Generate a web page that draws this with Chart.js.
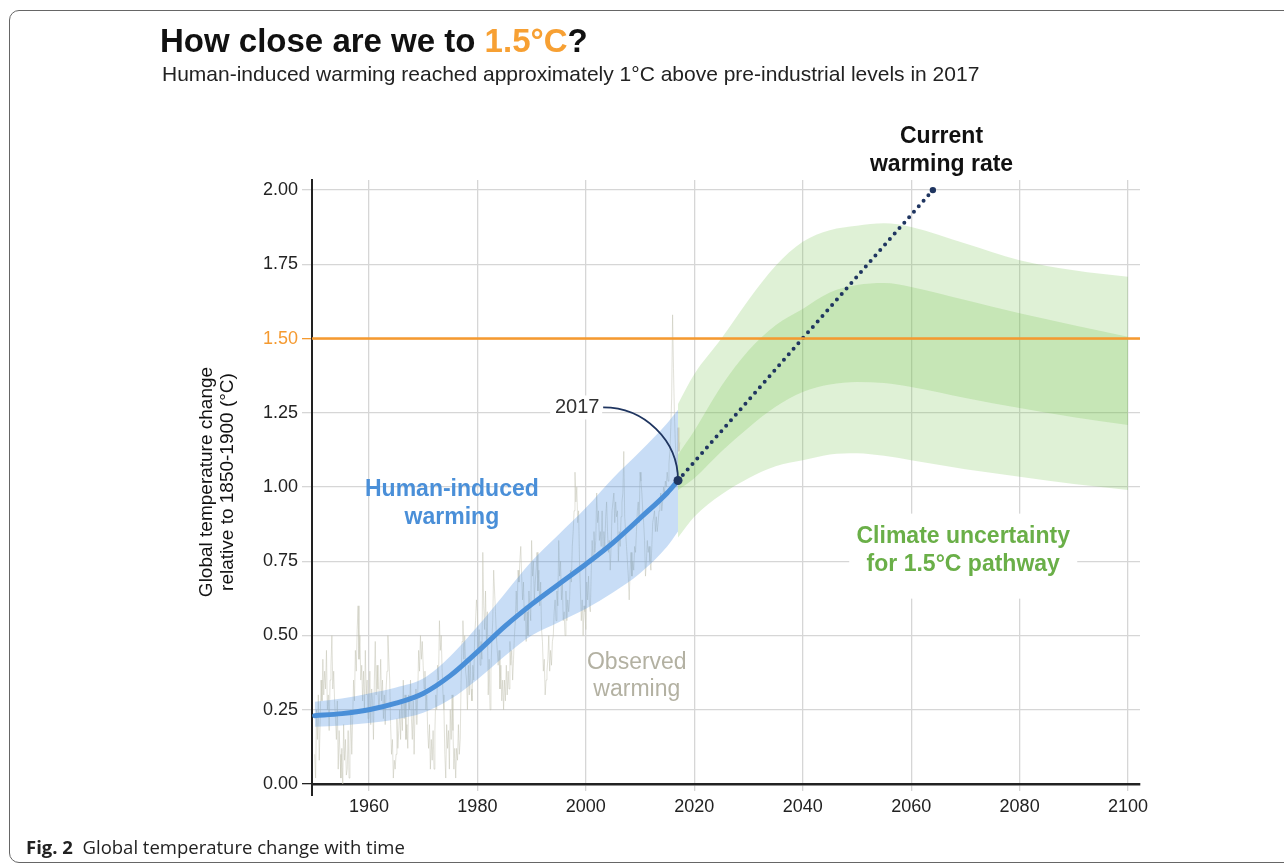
<!DOCTYPE html>
<html lang="en">
<head>
<meta charset="UTF-8">
<title>How close are we to 1.5°C?</title>
<script src="https://cdn.jsdelivr.net/npm/chart.js"></script>
<style>
  body { margin: 0; background: #fff; overflow: hidden; font-family: "Liberation Sans", Arial, sans-serif; }
  .wrap { position: relative; width: 1284px; height: 864px; overflow: hidden; }
  .frame { position: absolute; left: 9px; top: 10px; width: 1320px; height: 851px; border: 1.5px solid #666; border-radius: 10px; }
  canvas { position: absolute; left: 0; top: 0; }
  h1 { position: absolute; left: 160px; top: 24px; margin: 0; font-size: 33px; line-height: 1; font-weight: bold; color: #111; }
  h1 span { color: #f7a033; }
  .sub { position: absolute; left: 162px; top: 63px; margin: 0; font-size: 21px; line-height: 1; color: #222; }
  .cap { position: absolute; left: 26px; top: 838px; font-family: "Open Sans", sans-serif; font-size: 18.5px; line-height: 1; color: #222; }
</style>
</head>
<body>
<div class="wrap">
  <div class="frame"></div>
  <canvas id="chart" width="1284" height="864"></canvas>
  <h1>How close are we to <span>1.5°C</span>?</h1>
  <p class="sub">Human-induced warming reached approximately 1°C above pre-industrial levels in 2017</p>
  <div class="cap"><b>Fig. 2</b>&nbsp; Global temperature change with time</div>
</div>

<script>
// axis
var xMin = 1949.5, xMax = 2102.2;
var yMin = 0, yMax = 2.034;
var xTicks = [1960, 1980, 2000, 2020, 2040, 2060, 2080, 2100];
var yTicks = [0, 0.25, 0.5, 0.75, 1.0, 1.25, 1.5, 1.75, 2.0];
var threshold = 1.5;

// human-induced warming (central estimate + likely range)
var humanYears   = [1950, 1955, 1960, 1965, 1970, 1975, 1980, 1985, 1990, 1995, 2000, 2005, 2010, 2015, 2017];
var humanWarming = [0.23, 0.237, 0.25, 0.272, 0.305, 0.365, 0.445, 0.53, 0.605, 0.673, 0.74, 0.812, 0.895, 0.98, 1.022];
var humanUpper   = [0.277, 0.288, 0.305, 0.325, 0.355, 0.43, 0.53, 0.64, 0.75, 0.84, 0.93, 1.03, 1.12, 1.215, 1.26];
var humanLower   = [0.193, 0.197, 0.205, 0.218, 0.24, 0.285, 0.352, 0.43, 0.50, 0.545, 0.59, 0.645, 0.71, 0.80, 0.85];

// current warming rate
var rateYears  = [2017, 2064];
var rateValues = [1.022, 2.0];

// climate uncertainty for 1.5C pathway
var greenYears = [2017, 2020, 2025, 2030, 2035, 2040, 2045, 2050, 2055, 2060, 2070, 2080, 2090, 2100];
var outerUpper = [1.28, 1.38, 1.50, 1.63, 1.745, 1.826, 1.865, 1.88, 1.888, 1.876, 1.82, 1.764, 1.73, 1.708];
var outerLower = [0.83, 0.90, 0.975, 1.03, 1.07, 1.09, 1.11, 1.114, 1.105, 1.09, 1.06, 1.035, 1.01, 0.99];
var innerUpper = [1.11, 1.19, 1.34, 1.46, 1.545, 1.60, 1.655, 1.68, 1.687, 1.674, 1.63, 1.585, 1.545, 1.506];
var innerLower = [0.99, 1.03, 1.12, 1.20, 1.27, 1.32, 1.345, 1.354, 1.35, 1.337, 1.30, 1.266, 1.235, 1.209];

// observed warming, six readings a year from 1950
var obsStart = 1950, obsStep = 1 / 6;
var observed = [
  0.10, 0.02, 0.25, 0.15, 0.30, 0.08,  0.20, 0.35, 0.28, 0.42, 0.30, 0.38,  0.32, 0.45, 0.25, 0.30, 0.18, 0.35,
  0.40, 0.50, 0.32, 0.38, 0.28, 0.22,  0.15, 0.28, 0.05, 0.18, 0.10, 0.02,  0.12, 0.00, 0.20, 0.08, 0.15, 0.03,
  0.05, 0.18, 0.02, 0.12, 0.25, 0.10,  0.22, 0.35, 0.28, 0.45, 0.38, 0.52,  0.60, 0.42, 0.50, 0.35, 0.40, 0.28,
  0.38, 0.25, 0.45, 0.30, 0.35, 0.22,  0.25, 0.38, 0.20, 0.32, 0.28, 0.15,  0.35, 0.48, 0.30, 0.40, 0.32, 0.25,
  0.30, 0.42, 0.28, 0.35, 0.22, 0.30,  0.20, 0.32, 0.38, 0.50, 0.42, 0.35,  0.20, 0.10, 0.15, 0.02, 0.08, 0.05,
  0.10, 0.22, 0.12, 0.18, 0.25, 0.15,  0.28, 0.18, 0.35, 0.22, 0.30, 0.15,  0.20, 0.12, 0.30, 0.25, 0.35, 0.22,
  0.15, 0.28, 0.10, 0.25, 0.32, 0.20,  0.30, 0.45, 0.38, 0.50, 0.42, 0.48,  0.40, 0.32, 0.38, 0.25, 0.30, 0.18,
  0.12, 0.20, 0.05, 0.15, 0.08, 0.18,  0.05, 0.18, 0.30, 0.25, 0.40, 0.35,  0.55, 0.45, 0.50, 0.38, 0.30, 0.25,
  0.10, 0.02, 0.20, 0.12, 0.18, 0.05,  0.25, 0.15, 0.30, 0.18, 0.05, 0.12,  0.02, 0.12, 0.08, 0.20, 0.10, 0.15,
  0.35, 0.48, 0.55, 0.42, 0.50, 0.38,  0.35, 0.25, 0.40, 0.30, 0.42, 0.32,  0.28, 0.40, 0.35, 0.50, 0.55, 0.62,
  0.58, 0.45, 0.52, 0.40, 0.48, 0.42,  0.78, 0.60, 0.52, 0.65, 0.48, 0.58,  0.30, 0.42, 0.25, 0.38, 0.48, 0.55,
  0.72, 0.65, 0.58, 0.50, 0.45, 0.40,  0.45, 0.32, 0.40, 0.28, 0.35, 0.25,  0.35, 0.28, 0.40, 0.30, 0.38, 0.32,
  0.48, 0.40, 0.45, 0.35, 0.42, 0.50,  0.55, 0.65, 0.58, 0.72, 0.68, 0.75,  0.80, 0.70, 0.62, 0.68, 0.55, 0.60,
  0.48, 0.58, 0.50, 0.65, 0.60, 0.55,  0.82, 0.70, 0.75, 0.62, 0.68, 0.72,  0.78, 0.65, 0.72, 0.60, 0.68, 0.52,
  0.48, 0.38, 0.42, 0.30, 0.35, 0.38,  0.42, 0.50, 0.38, 0.45, 0.40, 0.48,  0.50, 0.58, 0.62, 0.55, 0.65, 0.60,
  0.82, 0.70, 0.75, 0.62, 0.68, 0.55,  0.58, 0.50, 0.65, 0.55, 0.62, 0.58,  0.62, 0.72, 0.68, 0.80, 0.85, 0.92,
  1.05, 0.95, 1.00, 0.88, 0.92, 0.75,  0.65, 0.55, 0.62, 0.50, 0.60, 0.58,  0.52, 0.68, 0.62, 0.70, 0.60, 0.58,
  0.72, 0.82, 0.75, 0.85, 0.78, 0.82,  0.98, 0.88, 0.92, 0.82, 0.85, 0.80,  0.92, 0.78, 0.85, 0.80, 0.90, 0.95,
  0.85, 0.78, 0.82, 0.72, 0.80, 0.92,  0.92, 0.98, 0.88, 0.95, 0.90, 0.92,  0.75, 0.85, 0.80, 0.90, 0.95, 0.98,
  1.12, 0.90, 0.85, 0.80, 0.75, 0.70,  0.62, 0.72, 0.78, 0.70, 0.75, 0.72,  0.80, 0.78, 0.85, 0.92, 0.95, 0.88,
  1.05, 1.02, 0.98, 0.92, 0.88, 0.82,  0.70, 0.75, 0.82, 0.78, 0.80, 0.75,  0.72, 0.80, 0.88, 0.90, 0.92, 0.85,
  0.90, 0.85, 0.88, 0.92, 0.95, 0.98,  0.92, 0.95, 1.00, 0.98, 1.02, 1.00,  1.05, 1.02, 1.08, 1.12, 1.20, 1.30,
  1.58, 1.40, 1.25, 1.15, 1.10, 1.05,  1.20, 1.12, 1.15
];

var orange = '#f59a30';
var navy = '#1f3560';
var FONT = '"Liberation Sans", Arial, sans-serif';

function pts(xs, ys) {
  return xs.map(function (x, i) { return {x: x, y: ys[i]}; });
}

var observedPts = observed.map(function (v, i) { return {x: obsStart + i * obsStep, y: v}; });

function band(data, fill, color, order) {
  return {
    data: data, fill: fill, backgroundColor: color, borderWidth: 0,
    pointRadius: 0, cubicInterpolationMode: 'monotone', order: order
  };
}

function drawLines(ctx, lines, cx, cy, gap) {
  lines.forEach(function (t, i) { ctx.fillText(t, cx, cy + i * gap); });
}

var notes = {
  id: 'notes',
  beforeDatasetsDraw: function (chart) {
    var ctx = chart.ctx, x = chart.scales.x, y = chart.scales.y;
    ctx.save();
    ctx.fillStyle = '#fff';
    // boxes behind labels break the grid like the original
    var cx = x.getPixelForValue(2069.6), cy = y.getPixelForValue(0.833);
    ctx.fillRect(cx - 114, cy - 23, 228, 85);
    var lx = x.getPixelForValue(1998.4), ly = y.getPixelForValue(1.268);
    ctx.fillRect(lx - 27, ly - 12, 52, 24);
    ctx.restore();
  },
  afterDatasetsDraw: function (chart) {
    var ctx = chart.ctx, x = chart.scales.x, y = chart.scales.y;
    ctx.save();
    ctx.textAlign = 'center';
    ctx.textBaseline = 'middle';

    ctx.font = 'bold 23px ' + FONT;
    ctx.fillStyle = '#4a8fd8';
    drawLines(ctx, ['Human-induced', 'warming'], x.getPixelForValue(1975.3), y.getPixelForValue(0.99), 28);

    ctx.font = '23px ' + FONT;
    ctx.fillStyle = '#b3b1a2';
    drawLines(ctx, ['Observed', 'warming'], x.getPixelForValue(2009.4), y.getPixelForValue(0.407), 27);

    ctx.font = 'bold 23px ' + FONT;
    ctx.fillStyle = '#6aaf48';
    drawLines(ctx, ['Climate uncertainty', 'for 1.5°C pathway'], x.getPixelForValue(2069.6), y.getPixelForValue(0.833), 28);

    ctx.fillStyle = '#111';
    drawLines(ctx, ['Current', 'warming rate'], x.getPixelForValue(2065.6), y.getPixelForValue(2.179), 28);

    // 2017 callout
    ctx.font = '20px ' + FONT;
    ctx.fillStyle = '#333';
    var lx = x.getPixelForValue(1998.4), ly = y.getPixelForValue(1.268);
    ctx.fillText('2017', lx, ly);
    var sx = lx + 26, sy = ly;
    var ex = x.getPixelForValue(rateYears[0]), ey = y.getPixelForValue(rateValues[0]);
    ctx.beginPath();
    ctx.moveTo(sx, sy);
    ctx.bezierCurveTo(sx + (ex - sx) * 0.55, sy, ex, ey - (ey - sy) * 0.55, ex, ey);
    ctx.strokeStyle = navy;
    ctx.lineWidth = 1.8;
    ctx.stroke();

    // y axis runs a little below the x axis
    ctx.beginPath();
    ctx.moveTo(chart.chartArea.left, chart.chartArea.bottom);
    ctx.lineTo(chart.chartArea.left, chart.chartArea.bottom + 12);
    ctx.strokeStyle = '#222';
    ctx.lineWidth = 2;
    ctx.stroke();
    ctx.restore();
  }
};

new Chart(document.getElementById('chart'), {
  type: 'line',
  data: {
    datasets: [
      band(pts(greenYears, outerUpper), '+1', 'rgba(110,190,70,0.22)', 10),
      band(pts(greenYears, outerLower), false, 'transparent', 10),
      band(pts(greenYears, innerUpper), '+1', 'rgba(110,190,70,0.22)', 9),
      band(pts(greenYears, innerLower), false, 'transparent', 9),
      {
        data: observedPts, borderColor: 'rgba(195,195,180,0.5)', borderWidth: 1,
        pointRadius: 0, tension: 0, fill: false, order: 8
      },
      band(pts(humanYears, humanUpper), '+1', 'rgba(74,144,226,0.3)', 7),
      band(pts(humanYears, humanLower), false, 'transparent', 7),
      {
        data: pts(humanYears, humanWarming), borderColor: '#4a8fd8', borderWidth: 5,
        pointRadius: 0, cubicInterpolationMode: 'monotone', fill: false, borderCapStyle: 'round', order: 6
      },
      {
        data: pts(rateYears, rateValues), borderColor: navy, borderWidth: 4,
        borderDash: [0, 7.3], borderCapStyle: 'round', fill: false,
        pointRadius: [4.5, 3.2], pointBackgroundColor: navy, pointBorderWidth: 0, order: 5
      },
      {
        data: pts([xMin, xMax], [threshold, threshold]), borderColor: orange, borderWidth: 2.5,
        pointRadius: 0, fill: false, order: 4
      }
    ]
  },
  options: {
    responsive: false,
    animation: false,
    layout: { padding: { left: 190, top: 180, right: 144, bottom: 40 } },
    plugins: {
      legend: { display: false },
      tooltip: { enabled: false }
    },
    scales: {
      x: {
        type: 'linear', min: xMin, max: xMax,
        afterBuildTicks: function (s) { s.ticks = xTicks.map(function (v) { return {value: v}; }); },
        afterFit: function (s) { s.height = 40; },
        ticks: {
          font: { size: 18, family: FONT }, color: '#222', padding: 5, maxRotation: 0,
          callback: function (v) { return String(v); }
        },
        grid: { color: '#d6d6d6', lineWidth: 1.3, tickLength: 7 },
        border: { color: '#222', width: 2.5 }
      },
      y: {
        type: 'linear', min: yMin, max: yMax,
        afterBuildTicks: function (s) { s.ticks = yTicks.map(function (v) { return {value: v}; }); },
        afterFit: function (s) { s.width = 122; },
        ticks: {
          font: { size: 18, family: FONT }, padding: 4,
          color: function (c) { return c.tick.value === threshold ? orange : '#222'; },
          callback: function (v) { return v.toFixed(2); }
        },
        grid: {
          lineWidth: 1.3, tickLength: 10,
          color: function (c) { return c.tick.value === threshold ? orange : '#d6d6d6'; },
          tickColor: function (c) {
            if (c.tick.value === 0) return '#222';
            return c.tick.value === threshold ? orange : '#d6d6d6';
          }
        },
        border: { color: '#222', width: 2 },
        title: {
          display: true, text: ['Global temperature change', 'relative to 1850-1900 (°C)'],
          font: { size: 19, family: FONT, lineHeight: 1.12 }, color: '#111', padding: { top: 6 }
        }
      }
    }
  },
  plugins: [notes]
});
</script>
</body>
</html>
